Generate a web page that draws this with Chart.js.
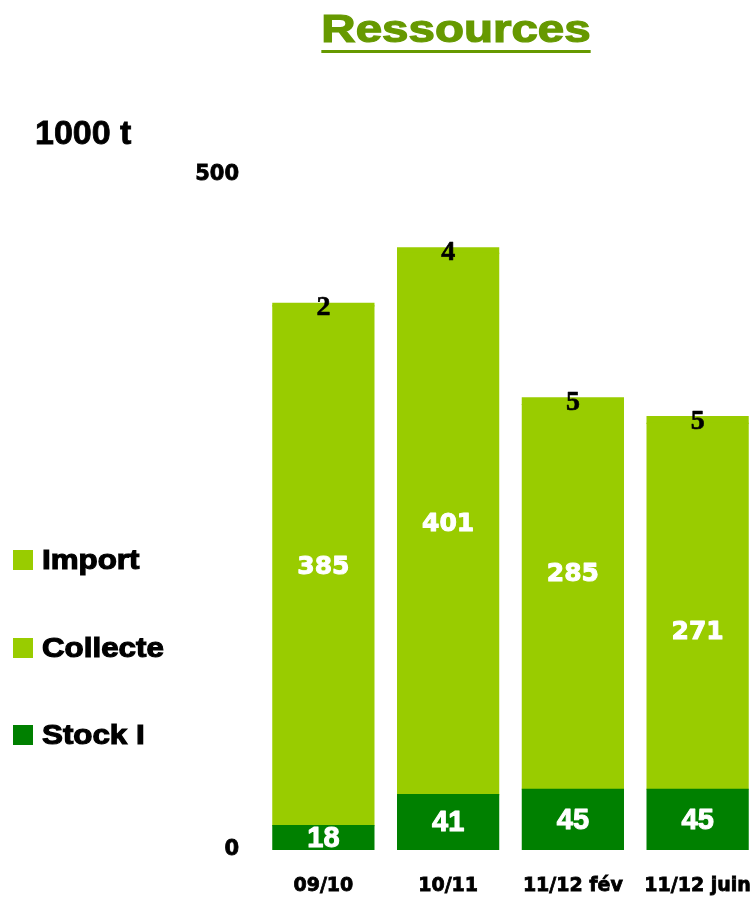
<!DOCTYPE html>
<html lang="fr">
<head>
<meta charset="utf-8">
<title>Ressources</title>
<script src="https://cdn.jsdelivr.net/npm/chart.js@4.4.1/dist/chart.umd.min.js"></script>
<style>
  html, body { margin: 0; padding: 0; background: #fff; overflow: hidden; }
  #wrap { position: relative; width: 753px; height: 898px; overflow: hidden; }
  #chart { position: absolute; left: 0; top: 0; }
  .title {
    position: absolute; left: 0; top: 10px; width: 912px; text-align: center;
    font: bold 38px "Liberation Sans", Arial, sans-serif; line-height: 38px;
    color: #669900; white-space: nowrap; -webkit-text-stroke: 1.2px #669900;
    text-decoration: underline; text-decoration-thickness: 3px; text-underline-offset: 8px;
    transform: scaleX(1.25); transform-origin: 456px 0;
  }
  .unit {
    position: absolute; left: 35px; top: 115px;
    font: bold 34px "Liberation Sans", Arial, sans-serif; line-height: 34px; color: #000;
    -webkit-text-stroke: 0.8px #000;
  }
  .leg-box { position: absolute; left: 13px; width: 20px; height: 20px; }
  .leg-text {
    position: absolute; left: 42px; white-space: nowrap;
    font: bold 27px "Liberation Sans", Arial, sans-serif; line-height: 27px; color: #000;
    -webkit-text-stroke: 1.1px #000;
    transform: scaleX(1.16); transform-origin: 0 0;
  }
</style>
</head>
<body>
<div id="wrap">
  <canvas id="chart" width="760" height="898"></canvas>
  <div class="title">Ressources</div>
  <div class="unit">1000 t</div>
  <div id="legend"></div>
</div>
<script>
const categories = ["09/10", "10/11", "11/12 fév", "11/12 juin"];
const stockI = [18, 41, 45, 45];
const collecte = [385, 401, 285, 271];
const importT = [2, 4, 5, 5];
const yTicks = [0, 500];

const LIGHT = "#99cc00";
const DARK = "#008000";

// the "Collecte" figures are not all centred in their segment
const collecteLabelShift = [2, 1, -22, 26];

function $(id) { return document.getElementById(id); }

function heavyText(ctx, txt, x, y, color, stroke) {
  ctx.fillStyle = color;
  ctx.strokeStyle = color;
  ctx.lineWidth = stroke;
  ctx.lineJoin = "round";
  ctx.strokeText(txt, x, y);
  ctx.fillText(txt, x, y);
}

const barLabels = {
  id: "barLabels",
  afterDatasetsDraw(chart) {
    const ctx = chart.ctx;
    ctx.save();
    ctx.textAlign = "center";
    ctx.textBaseline = "middle";
    chart.data.datasets.forEach((ds, di) => {
      const meta = chart.getDatasetMeta(di);
      meta.data.forEach((bar, i) => {
        const v = ds.data[i];
        if (ds.label === "Stock I") {
          ctx.font = "bold 29px 'Liberation Sans', Arial, sans-serif";
          heavyText(ctx, v, bar.x, (bar.y + bar.base) / 2 + 1, "#fff", 1);
        } else if (ds.label === "Collecte") {
          ctx.font = "bold 25px 'DejaVu Sans', sans-serif";
          heavyText(ctx, v, bar.x, (bar.y + bar.base) / 2 + collecteLabelShift[i], "#fff", 1);
        } else {
          ctx.font = "bold 28px 'Liberation Serif', 'Times New Roman', serif";
          heavyText(ctx, v, bar.x, bar.y + 5, "#000", 0.6);
        }
      });
    });
    ctx.restore();
  }
};

const tickFont = size => ({ family: "'DejaVu Sans', sans-serif", size: size, weight: "bold" });

const chart = new Chart($("chart"), {
  type: "bar",
  data: {
    labels: categories,
    datasets: [
      { label: "Stock I", data: stockI, backgroundColor: DARK },
      { label: "Collecte", data: collecte, backgroundColor: LIGHT },
      { label: "Import", data: importT, backgroundColor: LIGHT }
    ]
  },
  options: {
    responsive: false,
    animation: false,
    layout: { padding: { top: 175, left: 0, right: 0, bottom: 0 } },
    datasets: { bar: { barPercentage: 0.81, categoryPercentage: 1.0, borderWidth: 0, inflateAmount: 0.6 } },
    plugins: { legend: { display: false }, tooltip: { enabled: false }, title: { display: false } },
    scales: {
      x: {
        stacked: true,
        grid: { display: false, drawTicks: false },
        border: { display: false },
        ticks: {
          color: "#000", padding: 25, maxRotation: 0, autoSkip: false,
          textStrokeColor: "#000", textStrokeWidth: 0.8,
          font: tickFont(19)
        },
        afterFit(s) { s.height = 48; s.paddingLeft = 0; s.paddingRight = 0; }
      },
      y: {
        stacked: true,
        min: 0,
        max: 500,
        grid: { display: false, drawTicks: false },
        border: { display: false },
        ticks: {
          color: "#000", padding: 22,
          textStrokeColor: "#000", textStrokeWidth: 0.8,
          font: tickFont(21)
        },
        afterBuildTicks(s) { s.ticks = yTicks.map(v => ({ value: v })); },
        afterFit(s) { s.width = 261; }
      }
    }
  },
  plugins: [barLabels]
});

// legend on the left, top entry first
const baselines = [570, 658, 745];
$("legend").innerHTML = chart.data.datasets.slice().reverse().map((ds, i) => `
  <div class="leg-box" style="top:${baselines[i] - 20}px;background:${ds.backgroundColor}"></div>
  <div class="leg-text" style="top:${baselines[i] - 23}px">${ds.label}</div>`).join("");
</script>
</body>
</html>
